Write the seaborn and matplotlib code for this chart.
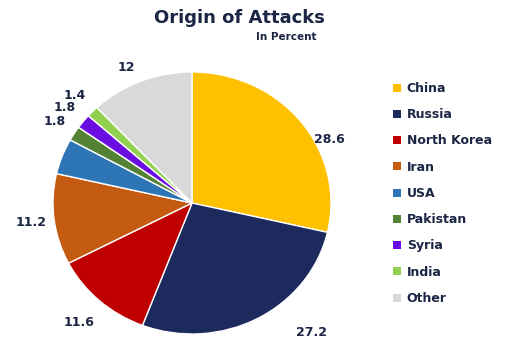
import matplotlib
matplotlib.use("Agg")
import matplotlib.pyplot as plt
import seaborn as sns
import numpy as np

countries = ["China", "Russia", "North Korea", "Iran", "USA", "Pakistan", "Syria", "India", "Other"]
values = [28.6, 27.2, 11.6, 11.2, 4.4, 1.8, 1.8, 1.4, 12]
value_labels = ["28.6", "27.2", "11.6", "11.2", "", "1.8", "1.8", "1.4", "12"]
colors = ["#FFC000", "#1C2A5E", "#C00000", "#C55A11", "#2E75B6", "#548235", "#6A0DE0", "#92D050", "#D9D9D9"]

sns.set_theme(style="white")
plt.rcParams['font.family'] = ['DejaVu Sans']
text_color = "#1B2544"

fig = plt.figure(figsize=(5.05, 3.38), dpi=100)
W, H = 505, 338
cx, cy, rx, ry = 192, 203, 139, 131
ax = fig.add_axes([(cx - rx) / W, (H - cy - ry) / H, 2 * rx / W, 2 * ry / H])

wedges, _ = ax.pie(values, colors=colors, startangle=90, counterclock=False,
                   wedgeprops=dict(edgecolor="white", linewidth=1.0))
ax.set_aspect('auto')
ax.set_xlim(-1, 1)
ax.set_ylim(-1, 1)
ax.axis('off')

# label placement tweaks (angle shift in degrees, radius)
shifts = [-12.5, 13, 0, 0, 0, 0, 0, 0, 3]
radii = [1.1, 1.31, 1.22, 1.17, 1.17, 1.17, 1.17, 1.18, 1.14]
for w, lab, s, r in zip(wedges, value_labels, shifts, radii):
    if not lab:
        continue
    ang = np.deg2rad((w.theta1 + w.theta2) / 2 + s)
    ax.text(r * np.cos(ang), r * np.sin(ang), lab, ha="center", va="center",
            fontsize=9, fontweight="bold", color=text_color, clip_on=False)

fig.text(239 / W, 1 - 18 / H, "Origin of Attacks", ha="center", va="center",
         fontsize=13, fontweight="bold", color=text_color)
fig.text(286 / W, 1 - 37 / H, "In Percent", ha="center", va="center",
         fontsize=7.5, fontweight="bold", color=text_color)

leg = fig.legend(wedges, countries, loc="upper left", bbox_to_anchor=(393 / W, 1 - 82 / H),
                 frameon=False, fontsize=9, handlelength=0.6, handleheight=0.6,
                 handletextpad=0.5, labelspacing=1.06, borderaxespad=0, borderpad=0)
for t in leg.get_texts():
    t.set_fontweight("bold")
    t.set_color(text_color)
for h in leg.legend_handles:
    h.set_edgecolor("none")

fig.savefig("out.png", dpi=100)
